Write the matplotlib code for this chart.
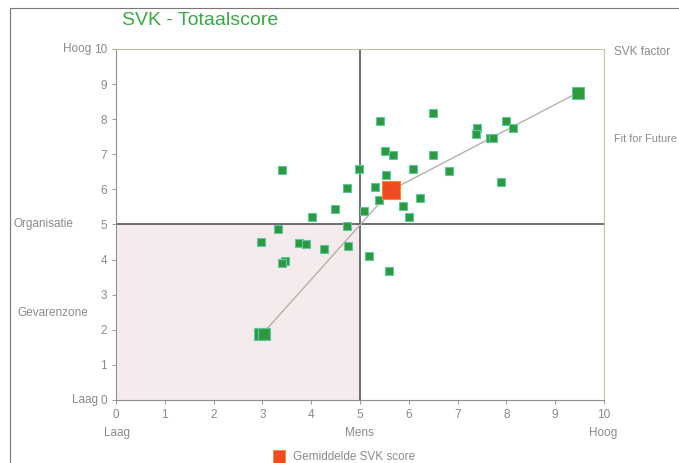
import matplotlib
matplotlib.use("Agg")
import matplotlib.pyplot as plt
from matplotlib.patches import Rectangle

plt.rcParams['font.family'] = ['Liberation Sans', 'DejaVu Sans']

# scores per organisatie: Mens (x) en Organisatie (y)
mens = [6.49, 5.42, 8.00, 8.13, 7.40, 7.38, 7.66, 7.72, 5.52, 5.67, 6.49, 3.41,
        4.99, 6.08, 6.83, 5.54, 7.90, 4.73, 5.30, 5.40, 6.23, 5.88, 5.08, 4.48,
        4.01, 6.00, 4.73, 3.32, 2.97, 3.75, 3.90, 4.75, 4.26, 5.19, 3.46, 3.41,
        5.60]
organisatie = [8.19, 7.95, 7.95, 7.76, 7.74, 7.57, 7.45, 7.46, 7.10, 6.99, 6.98, 6.54,
               6.57, 6.57, 6.53, 6.41, 6.20, 6.05, 6.08, 5.69, 5.75, 5.52, 5.39, 5.43,
               5.21, 5.20, 4.97, 4.88, 4.50, 4.47, 4.43, 4.39, 4.30, 4.10, 3.97, 3.89,
               3.68]

# laagste en hoogste score (grotere markers)
ext_mens = [2.96, 3.04, 9.47]
ext_org = [1.88, 1.88, 8.76]

# gemiddelde
gem_mens = 5.64
gem_org = 5.98

# lijn: laagste -> gemiddelde -> hoogste
lijn_x = [3.0, gem_mens, 9.47]
lijn_y = [1.88, gem_org, 8.76]

ticks = list(range(0, 11))

fig = plt.figure(figsize=(6.79, 4.63), dpi=100)
ax = fig.add_axes([0.1708, 0.1361, 0.7187, 0.7581])

grijs = '#8a8a8a'

# gevarenzone
ax.add_patch(Rectangle((0, 0), 5, 5, facecolor='#f5eaec', edgecolor='none', zorder=0))
ax.axvline(5, color='#555555', lw=1.2, zorder=1)
ax.axhline(5, color='#555555', lw=1.2, zorder=1)

ax.plot(lijn_x, lijn_y, color='#b8b0a8', lw=1, zorder=2)

ax.scatter(mens, organisatie, marker='s', s=38, facecolor='#2f9a3c',
           edgecolor='#5cc8a8', linewidth=0.8, zorder=3)
ax.scatter(ext_mens, ext_org, marker='s', s=70, facecolor='#2f9a3c',
           edgecolor='#5cc8a8', linewidth=0.8, zorder=3)
ax.scatter([gem_mens], [gem_org], marker='s', s=170, facecolor='#f04a22',
           edgecolor='#f08a30', linewidth=0.8, zorder=4)

ax.set_xlim(0, 10)
ax.set_ylim(0, 10)
ax.set_xticks(ticks)
ax.set_yticks(ticks)
ax.tick_params(colors=grijs, labelcolor=grijs, labelsize=8.5, length=3, width=0.6)

for side in ['top', 'right']:
    ax.spines[side].set_color('#c8c0a0')
    ax.spines[side].set_linestyle((0, (1, 1)))
    ax.spines[side].set_linewidth(0.8)
for side in ['left', 'bottom']:
    ax.spines[side].set_color('#909090')
    ax.spines[side].set_linewidth(0.8)

# figuurtitel en labels
fig.text(0.295, 0.955, 'SVK - Totaalscore', color='#3aa845', fontsize=14,
         ha='center', va='center')
lbl = dict(color=grijs, fontsize=8.5, va='center')
fig.text(0.093, 0.894, 'Hoog', ha='left', **lbl)
fig.text(0.020, 0.516, 'Organisatie', ha='left', **lbl)
fig.text(0.025, 0.324, 'Gevarenzone', ha='left', **lbl)
fig.text(0.106, 0.136, 'Laag', ha='left', **lbl)
fig.text(0.905, 0.888, 'SVK factor', ha='left', **lbl)
fig.text(0.905, 0.700, 'Fit for Future', ha='left', color=grijs, fontsize=7.8, va='center')
fig.text(0.153, 0.065, 'Laag', ha='left', **lbl)
fig.text(0.529, 0.065, 'Mens', ha='center', **lbl)
fig.text(0.888, 0.065, 'Hoog', ha='center', **lbl)

# legenda
fig.patches.append(Rectangle((0.402, 0.0), 0.018, 0.028, transform=fig.transFigure,
                             facecolor='#f04a22', edgecolor='#f08a30', lw=0.6))
fig.text(0.432, 0.013, 'Gemiddelde SVK score', ha='left', **lbl)

# kader rond de figuur
fig.patches.append(Rectangle((0.015, -0.05), 1.1, 1.033, transform=fig.transFigure,
                             facecolor='none', edgecolor='#777777', lw=0.8))

fig.savefig('out.png', dpi=100)
